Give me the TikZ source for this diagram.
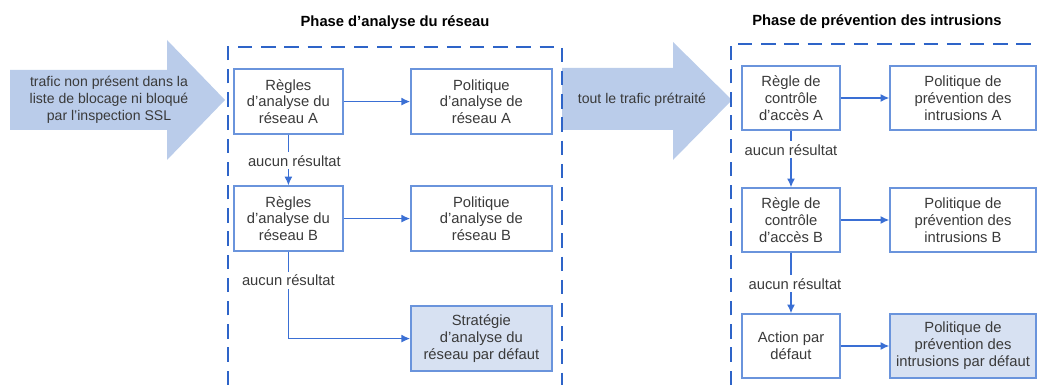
\documentclass[tikz,border=0pt]{standalone}
\usepackage{fontspec}
\setmainfont{Liberation Sans}
\usetikzlibrary{positioning, arrows.meta}
\definecolor{frameblue}{HTML}{2E64C8}
\definecolor{lineblue}{HTML}{3A6FD4}
\definecolor{boxblue}{HTML}{6A94DC}
\definecolor{fillblue}{HTML}{D7E1F2}
\definecolor{bigblue}{HTML}{BACCEA}
\definecolor{textgray}{HTML}{3A3A3A}
\begin{document}
\begin{tikzpicture}
[
    >={Latex[length = 2.2mm, width = 2mm]},
    every node/.style = {text = textgray, font = \fontsize{10.5}{12}\selectfont},
    rulebox/.style = {rectangle, draw = boxblue, line width = 0.9pt, fill = white, align = center, minimum width = 2.725cm, minimum height = 1.625cm, inner sep = 1pt},
    policybox/.style = {rulebox, minimum width = 3.525cm},
    defaultbox/.style = {policybox, fill = fillblue},
    nomatch/.style = {inner sep = 2pt},
    phasetitle/.style = {font = \fontsize{10.5}{12}\selectfont\bfseries, text = black},
    phaseframe/.style = {draw = frameblue, line width = 1.4pt, dash pattern = on 0.36cm off 0.22cm},
    link/.style = {draw = lineblue, line width = 1.1pt}
]
    \useasboundingbox (0,0) rectangle (25.925,-9.625);

    % big arrows
    \fill[bigblue] (0.25,-1.75) -- (4.175,-1.75) -- (4.175,-1.0) -- (5.625,-2.5) -- (4.175,-4.0) -- (4.175,-3.25) -- (0.25,-3.25) -- cycle;
    \fill[bigblue] (14.05,-1.7) -- (16.825,-1.7) -- (16.825,-1.05) -- (18.3,-2.5) -- (16.825,-4.0) -- (16.825,-3.25) -- (14.05,-3.25) -- cycle;
    \node[align = center, font = \fontsize{10}{12}\selectfont] (intraffic) at (2.725,-2.5) {trafic non présent dans la\\liste de blocage ni bloqué\\par l'inspection SSL};
    \node[font = \fontsize{10}{12}\selectfont] (pretraffic) at (16.05,-2.5) {tout le trafic prétraité};

    % phases
    \draw[phaseframe] (5.7,-9.625) |- (14.05,-1.175) -- (14.05,-9.625);
    \draw[phaseframe] (18.275,-9.625) |- (25.925,-1.1);
    \node[phasetitle] (nettitle) at (9.875,-0.575) {Phase d'analyse du réseau};
    \node[phasetitle] (ipstitle) at (21.925,-0.55) {Phase de prévention des intrusions};

    % network analysis
    \node[rulebox] (ra) at (7.21,-2.54) {Règles\\d'analyse du\\réseau A};
    \node[policybox] (pa) at ([xshift = 4.825cm]ra) {Politique\\d'analyse de\\réseau A};
    \node[rulebox] (rb) at ([yshift = -2.925cm]ra) {Règles\\d'analyse du\\réseau B};
    \node[policybox] (pb) at ([yshift = -2.925cm]pa) {Politique\\d'analyse de\\réseau B};
    \node[defaultbox] (sdef) at ([yshift = -3cm]pb) {Stratégie\\d'analyse du\\réseau par défaut};
    \node[nomatch] (nr1) at ([yshift = -0.65cm, xshift = 0.15cm]ra.south) {aucun résultat};
    \node[nomatch] (nr2) at ([yshift = -0.72cm]rb.south) {aucun résultat};

    % intrusion prevention
    \node[rulebox, minimum width = 2.45cm, minimum height = 1.6cm] (ca) at (19.775,-2.45) {Règle de\\contrôle\\d'accès A};
    \node[policybox, minimum width = 3.65cm, minimum height = 1.6cm] (ia) at ([xshift = 4.3cm]ca) {Politique de\\prévention des\\intrusions A};
    \node[rulebox, minimum width = 2.45cm, minimum height = 1.6cm] (cb) at ([yshift = -3.05cm]ca) {Règle de\\contrôle\\d'accès B};
    \node[policybox, minimum width = 3.65cm, minimum height = 1.6cm] (ib) at ([yshift = -3.05cm]ia) {Politique de\\prévention des\\intrusions B};
    \node[rulebox, minimum width = 2.45cm, minimum height = 1.6cm] (act) at ([yshift = -3.15cm]cb) {Action par\\défaut};
    \node[defaultbox, minimum width = 3.65cm, minimum height = 1.6cm] (idef) at ([yshift = -3.15cm]ib) {Politique de\\prévention des\\intrusions par défaut};
    \node[nomatch] (nr3) at ([yshift = -0.48cm]ca.south) {aucun résultat};
    \node[nomatch] (nr4) at ([yshift = -0.78cm, xshift = 0.1cm]cb.south) {aucun résultat};


    \draw[link, ->] (ra) -- (pa);
    \draw[link, ->] (rb) -- (pb);
    \draw[link] (ra.south) -- (ra.south |- nr1.north);
    \draw[link, ->] (ra.south |- nr1.south) -- (rb.north);
    \draw[link] (rb.south) -- (rb.south |- nr2.north);
    \draw[link, ->] (rb.south |- nr2.south) |- (sdef.west);
    \draw[link, ->] (ca) -- (ia);
    \draw[link, ->] (cb) -- (ib);
    \draw[link, ->] (act) -- (idef);
    \draw[link] (ca.south) -- (ca.south |- nr3.north);
    \draw[link, ->] (ca.south |- nr3.south) -- (cb.north);
    \draw[link] (cb.south) -- (cb.south |- nr4.north);
    \draw[link, ->] (cb.south |- nr4.south) -- (act.north);
\end{tikzpicture}
\end{document}
